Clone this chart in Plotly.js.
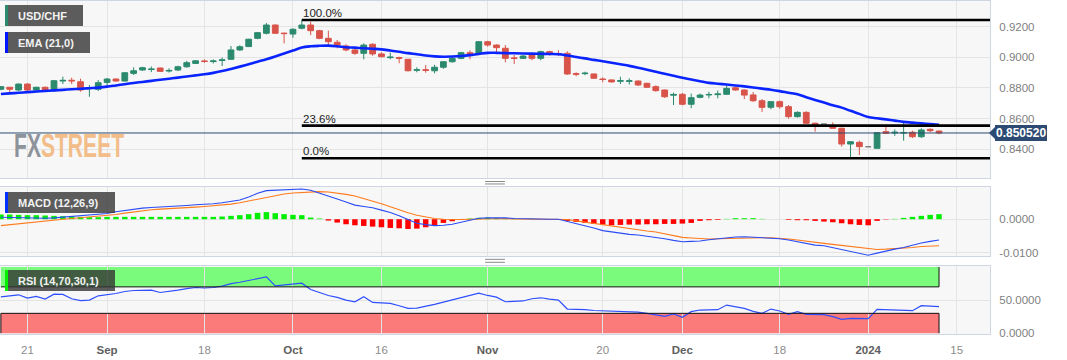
<!DOCTYPE html>
<html><head><meta charset="utf-8">
<script src="https://cdn.plot.ly/plotly-3.0.1.min.js"></script>
<style>html,body{margin:0;padding:0;background:#fff;}#chart{width:1067px;height:360px;}</style>
</head><body><div id="chart"></div>
<script>
// ---------- DATA ----------
const symbol = 'USD/CHF';
const dates = [
'2023-08-16','2023-08-17','2023-08-18','2023-08-21','2023-08-22','2023-08-23','2023-08-24','2023-08-25','2023-08-28','2023-08-29','2023-08-30','2023-08-31',
'2023-09-01','2023-09-04','2023-09-05','2023-09-06','2023-09-07','2023-09-08','2023-09-11','2023-09-12','2023-09-13','2023-09-14','2023-09-15','2023-09-18','2023-09-19','2023-09-20','2023-09-21','2023-09-22','2023-09-25','2023-09-26','2023-09-27','2023-09-28','2023-09-29',
'2023-10-02','2023-10-03','2023-10-04','2023-10-05','2023-10-06','2023-10-09','2023-10-10','2023-10-11','2023-10-12','2023-10-13','2023-10-16','2023-10-17','2023-10-18','2023-10-19','2023-10-20','2023-10-23','2023-10-24','2023-10-25','2023-10-26','2023-10-27','2023-10-30','2023-10-31',
'2023-11-01','2023-11-02','2023-11-03','2023-11-06','2023-11-07','2023-11-08','2023-11-09','2023-11-10','2023-11-13','2023-11-14','2023-11-15','2023-11-16','2023-11-17','2023-11-20','2023-11-21','2023-11-22','2023-11-23','2023-11-24','2023-11-27','2023-11-28','2023-11-29','2023-11-30',
'2023-12-01','2023-12-04','2023-12-05','2023-12-06','2023-12-07','2023-12-08','2023-12-11','2023-12-12','2023-12-13','2023-12-14','2023-12-15','2023-12-18','2023-12-19','2023-12-20','2023-12-21','2023-12-22','2023-12-25','2023-12-26','2023-12-27','2023-12-28','2023-12-29',
'2024-01-01','2024-01-02','2024-01-03','2024-01-04','2024-01-05','2024-01-08','2024-01-09','2024-01-10','2024-01-11'];
const open = [
0.8791,0.8804,0.8786,0.8825,0.8786,0.8804,0.8782,0.8845,0.8850,0.8840,
0.8795,0.8791,0.8836,0.8858,0.8845,0.8895,0.8917,0.8920,0.8930,0.8910,
0.8917,0.8938,0.8960,0.8976,0.8972,0.8979,0.8987,0.9048,0.9070,0.9124,
0.9157,0.9211,0.9158,0.9152,0.9190,0.9211,0.9174,0.9124,0.9098,0.9074,
0.9048,0.9026,0.9085,0.9022,0.8998,0.8998,0.8987,0.8915,0.8919,0.8912,
0.8935,0.8971,0.8993,0.9030,0.9022,0.9102,0.9080,0.9059,0.8996,0.8993,
0.9015,0.8993,0.9037,0.9024,0.9026,0.8893,0.8893,0.8891,0.8858,0.8852,
0.8843,0.8843,0.8845,0.8830,0.8808,0.8786,0.8752,0.8758,0.8693,0.8738,
0.8754,0.8756,0.8758,0.8801,0.8786,0.8754,0.8716,0.8673,0.8710,0.8677,
0.8612,0.8640,0.8569,0.8564,0.8547,0.8536,0.8433,0.8444,0.8416,0.8405,
0.8514,0.8505,0.8505,0.8510,0.8481,0.8529,0.8518];
const high = [
0.8811,0.8806,0.8828,0.8830,0.8808,0.8808,0.8851,0.8873,0.8867,0.8860,
0.8819,0.8851,0.8864,0.8862,0.8902,0.8934,0.8938,0.8940,0.8932,0.8928,
0.8945,0.8977,0.8981,0.8986,0.8986,0.8999,0.9074,0.9079,0.9121,0.9165,
0.9224,0.9214,0.9161,0.9190,0.9244,0.9233,0.9180,0.9174,0.9113,0.9085,
0.9057,0.9091,0.9091,0.9033,0.9031,0.9004,0.8989,0.8935,0.8950,0.8951,
0.8973,0.9001,0.9036,0.9046,0.9106,0.9108,0.9085,0.9080,0.9015,0.9015,
0.9021,0.9043,0.9043,0.9046,0.9039,0.8902,0.8906,0.8893,0.8869,0.8855,
0.8873,0.8862,0.8848,0.8833,0.8817,0.8789,0.8769,0.8767,0.8763,0.8763,
0.8775,0.8783,0.8815,0.8808,0.8789,0.8773,0.8727,0.8714,0.8717,0.8688,
0.8647,0.8647,0.8572,0.8565,0.8575,0.8540,0.8450,0.8455,0.8418,0.8509,
0.8546,0.8529,0.8575,0.8520,0.8536,0.8536,0.8520];
const low = [
0.8785,0.8769,0.8780,0.8780,0.8769,0.8778,0.8775,0.8825,0.8825,0.8775,
0.8742,0.8780,0.8812,0.8841,0.8841,0.8884,0.8912,0.8903,0.8904,0.8900,
0.8910,0.8932,0.8956,0.8964,0.8960,0.8943,0.8983,0.9042,0.9067,0.9118,
0.9150,0.9153,0.9091,0.9127,0.9183,0.9145,0.9118,0.9080,0.9059,0.9039,
0.9016,0.8987,0.9010,0.9000,0.8987,0.8961,0.8908,0.8902,0.8899,0.8895,
0.8925,0.8964,0.8987,0.8987,0.9018,0.9070,0.9030,0.8967,0.8956,0.8990,
0.8980,0.8980,0.9011,0.9008,0.8885,0.8876,0.8883,0.8860,0.8837,0.8835,
0.8825,0.8822,0.8812,0.8799,0.8775,0.8734,0.8688,0.8686,0.8667,0.8732,
0.8732,0.8732,0.8754,0.8782,0.8727,0.8708,0.8643,0.8660,0.8664,0.8599,
0.8606,0.8565,0.8514,0.8562,0.8534,0.8416,0.8340,0.8361,0.8414,0.8403,
0.8499,0.8486,0.8455,0.8472,0.8473,0.8510,0.8497];
const close = [
0.8808,0.8791,0.8825,0.8786,0.8804,0.8782,0.8847,0.8849,0.8846,0.8786,
0.8799,0.8834,0.8858,0.8845,0.8899,0.8912,0.8932,0.8923,0.8908,0.8914,
0.8938,0.8965,0.8977,0.8973,0.8976,0.8983,0.9048,0.9069,0.9118,0.9161,
0.9211,0.9157,0.9155,0.9183,0.9211,0.9174,0.9124,0.9102,0.9080,0.9048,
0.9026,0.9080,0.9022,0.9004,0.9001,0.8994,0.8912,0.8919,0.8915,0.8935,
0.8971,0.8993,0.9030,0.9022,0.9102,0.9080,0.9063,0.8993,0.8993,0.9008,
0.8993,0.9037,0.9022,0.9021,0.8891,0.8889,0.8896,0.8863,0.8855,0.8839,
0.8847,0.8846,0.8819,0.8804,0.8782,0.8742,0.8757,0.8693,0.8736,0.8753,
0.8757,0.8760,0.8797,0.8786,0.8753,0.8716,0.8673,0.8710,0.8677,0.8612,
0.8640,0.8569,0.8558,0.8564,0.8536,0.8433,0.8448,0.8416,0.8416,0.8507,
0.8503,0.8510,0.8508,0.8481,0.8525,0.8520,0.85052];
const ema21 = [
0.8760,0.8764,0.8768,0.8772,0.8776,0.8780,0.8784,0.8787,0.8791,0.8794,
0.8798,0.8802,0.8808,0.8816,0.8824,0.8832,0.8839,0.8846,0.8853,0.8860,
0.8867,0.8875,0.8882,0.8889,0.8898,0.8910,0.8924,0.8939,0.8955,0.8971,
0.8987,0.9005,0.9025,0.9044,0.9064,0.9072,0.9075,0.9076,0.9072,0.9066,
0.9063,0.9059,0.9056,0.9052,0.9044,0.9036,0.9027,0.9020,0.9012,0.9006,
0.9004,0.9005,0.9008,0.9014,0.9022,0.9029,0.9029,0.9027,0.9026,0.9025,
0.9024,0.9023,0.9022,0.9020,0.9012,0.9002,0.8993,0.8983,0.8974,0.8964,
0.8954,0.8944,0.8932,0.8919,0.8905,0.8892,0.8879,0.8866,0.8855,0.8844,
0.8833,0.8827,0.8822,0.8816,0.8810,0.8803,0.8795,0.8788,0.8779,0.8768,
0.8758,0.8739,0.8721,0.8704,0.8686,0.8671,0.8650,0.8630,0.8609,0.8601,
0.8594,0.8586,0.8578,0.8573,0.8568,0.8563,0.8558];
const macdLine = [
0.0006,0.0005,0.0005,0.0004,0.0004,0.0003,0.0004,0.0006,0.0008,0.0010,
0.0012,0.0015,0.0017,0.0022,0.0026,0.0030,0.0033,0.0035,0.0036,0.0038,
0.0039,0.0041,0.0043,0.0044,0.0046,0.0049,0.0053,0.0057,0.0066,0.0077,
0.0085,0.0086,0.0087,0.0089,0.0090,0.0086,0.0078,0.0069,0.0060,0.0051,
0.0042,0.0038,0.0034,0.0027,0.0020,0.0010,-0.0001,-0.0012,-0.0016,-0.0019,
-0.0018,-0.0015,-0.0009,-0.0002,0.0003,0.0004,0.0005,0.0004,0.0002,0.0001,
0.0000,0.0000,0.0000,0.0000,-0.0006,-0.0012,-0.0019,-0.0026,-0.0034,-0.0038,
-0.0042,-0.0045,-0.0047,-0.0050,-0.0053,-0.0058,-0.0063,-0.0067,-0.0066,-0.0065,
-0.0061,-0.0058,-0.0054,-0.0053,-0.0052,-0.0053,-0.0054,-0.0055,-0.0058,-0.0062,
-0.0067,-0.0073,-0.0077,-0.0079,-0.0085,-0.0091,-0.0097,-0.0103,-0.0107,-0.0101,
-0.0094,-0.0089,-0.0084,-0.0077,-0.0071,-0.0066,-0.0062];
const signalLine = [
-0.0019,-0.0016,-0.0013,-0.0010,-0.0007,-0.0004,-0.0002,0.0000,0.0002,0.0004,
0.0006,0.0008,0.0011,0.0014,0.0018,0.0022,0.0025,0.0028,0.0030,0.0031,
0.0033,0.0035,0.0036,0.0038,0.0040,0.0042,0.0045,0.0049,0.0054,0.0060,
0.0066,0.0071,0.0075,0.0078,0.0080,0.0082,0.0082,0.0081,0.0078,0.0074,
0.0069,0.0062,0.0054,0.0046,0.0037,0.0027,0.0019,0.0012,0.0006,0.0002,
0.0000,-0.0001,-0.0001,0.0000,0.0001,0.0002,0.0002,0.0002,0.0001,0.0001,
0.0001,0.0001,0.0001,0.0001,-0.0001,-0.0005,-0.0009,-0.0013,-0.0017,-0.0021,
-0.0025,-0.0029,-0.0032,-0.0035,-0.0038,-0.0043,-0.0049,-0.0054,-0.0056,-0.0058,
-0.0059,-0.0058,-0.0057,-0.0056,-0.0055,-0.0055,-0.0055,-0.0055,-0.0056,-0.0059,
-0.0062,-0.0066,-0.0069,-0.0072,-0.0075,-0.0078,-0.0082,-0.0086,-0.0089,-0.0090,
-0.0089,-0.0088,-0.0087,-0.0084,-0.0081,-0.0080,-0.0079];
const macdHist = [
0.0014,0.0014,0.0013,0.0012,0.0012,0.0011,0.0010,0.0009,0.0008,0.0007,
0.0006,0.0006,0.0007,0.0007,0.0007,0.0007,0.0007,0.0007,0.0007,0.0007,
0.0007,0.0007,0.0007,0.0007,0.0007,0.0008,0.0010,0.0012,0.0015,0.0019,
0.0021,0.0018,0.0015,0.0013,0.0012,0.0005,0.0002,-0.0004,-0.0010,-0.0015,
-0.0018,-0.0020,-0.0022,-0.0024,-0.0026,-0.0027,-0.0029,-0.0028,-0.0024,-0.0018,
-0.0011,-0.0006,-0.0002,0.0002,0.0004,0.0005,0.0004,0.0002,0.0001,0.0000,
0.0001,0.0000,-0.0001,-0.0002,-0.0005,-0.0008,-0.0011,-0.0014,-0.0016,-0.0018,
-0.0017,-0.0016,-0.0016,-0.0015,-0.0015,-0.0014,-0.0014,-0.0013,-0.0011,-0.0005,
-0.0003,-0.0002,0.0001,0.0003,0.0003,0.0003,0.0001,0.0000,0.0000,-0.0002,
-0.0003,-0.0003,-0.0005,-0.0007,-0.0009,-0.0012,-0.0015,-0.0017,-0.0018,-0.0005,
-0.0001,0.0001,0.0004,0.0007,0.0010,0.0013,0.0015];
const rsi14 = [
55.0,56.5,58.0,53.0,55.5,51.5,59.0,58.7,52.0,49.2,
50.0,56.5,58.0,60.0,63.0,64.5,64.8,65.0,61.5,62.8,
65.0,67.3,69.0,68.3,69.0,71.0,75.0,77.0,80.0,82.5,
85.0,71.5,72.5,73.5,75.5,66.0,61.0,57.0,54.0,50.0,
47.5,55.0,46.5,46.0,45.0,41.5,37.5,38.0,40.5,43.5,
47.0,50.5,53.5,58.0,60.5,57.0,54.5,47.5,48.0,48.7,
52.0,53.5,51.5,50.0,36.5,36.5,35.5,34.3,33.8,33.5,
33.5,33.0,31.7,30.0,27.5,25.5,29.0,24.0,32.5,35.0,
35.2,35.5,42.5,40.5,37.5,33.0,30.0,36.5,33.5,28.5,
32.5,28.5,28.3,28.0,25.0,21.0,22.5,22.2,22.0,36.0,
35.5,35.5,35.5,34.0,41.5,40.5,40.0];
const tickDates  = ['2023-08-21','2023-09-01','2023-09-18','2023-10-02','2023-10-16','2023-11-01','2023-11-20','2023-12-01','2023-12-18','2024-01-01','2024-01-15'];
const tickLabels = ['21','Sep','18','Oct','16','Nov','20','Dec','18','2024','15'];
const priceTicks = [0.84, 0.86, 0.88, 0.90, 0.92];
const macdTicks = [-0.01, 0];
const rsiTicks = [0, 50];
const fibPct = [1, 0.236, 0];
const rsiUpper = 70, rsiLower = 30;

// ---------- BUILD ----------
const FONT = 'Liberation Sans, Arial, Helvetica, sans-serif';
const UP = '#2b8a6e', DOWN = '#d8544a', DOJI = '#808080', TAG = '#2c4a72';
const gridC = '#e4e4e4', borderC = '#cfd5e2';
const xMin = -0.1, xMax = 111.76;
const priceRange = [0.8211, 0.9368], macdRange = [-0.01095, 0.00958], rsiRange = [-1.2, 101.5];
const domPrice = [0.4685, 1], domMacd = [0.2342, 0.4414], domRsi = [0, 0.2042];

const idx = dates.map((d, i) => i);
const lastI = idx[idx.length - 1];

function dateIndex(d) {
  const k = dates.indexOf(d);
  if (k >= 0) return k;
  let n = lastI;
  const t = new Date(dates[lastI] + 'T00:00:00Z');
  const target = new Date(d + 'T00:00:00Z');
  while (t < target) {
    t.setUTCDate(t.getUTCDate() + 1);
    const wd = t.getUTCDay();
    if (wd !== 0 && wd !== 6) n++;
  }
  return n;
}
const tickIdx = tickDates.map(dateIndex);
const tickText = tickLabels.map(l => /^\d{1,2}$/.test(l) ? l : '<b><span style="color:#606060">' + l + '</span></b>');

const isDoji = open.map((o, i) => o === close[i]);
const pick = (arr, want) => arr.filter((_, i) => isDoji[i] === want);

const hiVal = Math.max(...high), loVal = Math.min(...low);
const iHigh = high.indexOf(hiVal);
const fibVals = fibPct.map(p => loVal + p * (hiVal - loVal));
const lastClose = close[lastI];

const fibX = [], fibY = [];
fibVals.forEach(v => { fibX.push(iHigh, xMax, null); fibY.push(v, v, null); });

const traces = [
  { type: 'candlestick', xaxis: 'x3', yaxis: 'y3', x: pick(idx, false), open: pick(open, false), high: pick(high, false), low: pick(low, false), close: pick(close, false),
    increasing: { line: { color: UP, width: 1 }, fillcolor: UP }, decreasing: { line: { color: DOWN, width: 1 }, fillcolor: DOWN }, hoverinfo: 'skip' },
  { type: 'candlestick', xaxis: 'x3', yaxis: 'y3', x: pick(idx, true), open: pick(open, true), high: pick(high, true), low: pick(low, true), close: pick(close, true),
    increasing: { line: { color: DOJI, width: 1.5 }, fillcolor: DOJI }, decreasing: { line: { color: DOJI, width: 1.5 }, fillcolor: DOJI }, hoverinfo: 'skip' },
  { type: 'scatter', mode: 'lines', xaxis: 'x3', yaxis: 'y3', x: idx, y: ema21, line: { color: '#0a24ff', width: 2.6, shape: 'spline' }, hoverinfo: 'skip' },
  { type: 'scatter', mode: 'lines', xaxis: 'x3', yaxis: 'y3', x: fibX, y: fibY, line: { color: '#000', width: 2.6 }, hoverinfo: 'skip', connectgaps: false },
  { type: 'scatter', mode: 'lines', xaxis: 'x3', yaxis: 'y3', x: [xMin, xMax], y: [lastClose, lastClose], line: { color: TAG, width: 1 }, hoverinfo: 'skip' },
  { type: 'bar', xaxis: 'x2', yaxis: 'y2', x: idx, y: macdHist, width: 0.62,
    marker: { color: macdHist.map(v => v >= 0 ? '#00ee00' : '#ff0000'), line: { width: 0 } }, hoverinfo: 'skip' },
  { type: 'scatter', mode: 'lines', xaxis: 'x2', yaxis: 'y2', x: idx, y: signalLine, line: { color: '#ff7a1a', width: 1.1 }, hoverinfo: 'skip' },
  { type: 'scatter', mode: 'lines', xaxis: 'x2', yaxis: 'y2', x: idx, y: macdLine, line: { color: '#2a4cf5', width: 1.1 }, hoverinfo: 'skip' },
  { type: 'scatter', mode: 'lines', xaxis: 'x', yaxis: 'y', x: idx, y: rsi14, line: { color: '#2f4fff', width: 1.2 }, hoverinfo: 'skip' }
];

const xBase = (labels) => ({
  range: [xMin, xMax], tickmode: 'array', tickvals: tickIdx, ticktext: tickText,
  showticklabels: labels, ticks: labels ? 'outside' : '', ticklen: 5, tickcolor: 'rgba(0,0,0,0)',
  tickfont: { family: FONT, size: 11.5, color: '#8c8c8c' },
  showgrid: true, gridcolor: gridC, gridwidth: 1, zeroline: false,
  showline: true, mirror: true, linecolor: borderC, linewidth: 1,
  fixedrange: true, rangeslider: { visible: false }
});
const yBase = (dom, rng, vals) => ({
  domain: dom, range: rng, side: 'right', tickmode: 'array', tickvals: vals, ticktext: vals.map(v => v.toFixed(4)),
  ticks: 'outside', ticklen: 6, tickcolor: 'rgba(0,0,0,0)',
  tickfont: { family: FONT, size: 11.5, color: '#7f7f7f' },
  showgrid: true, gridcolor: gridC, gridwidth: 1, zeroline: false,
  showline: true, mirror: true, linecolor: borderC, linewidth: 1, fixedrange: true
});

// paper position of the last price (for the price tag pointer)
const tagPaperY = domPrice[0] + (lastClose - priceRange[0]) / (priceRange[1] - priceRange[0]) * (domPrice[1] - domPrice[0]);

const shapes = [
  { type: 'rect', xref: 'x', yref: 'y', x0: idx[0], x1: lastI, y0: rsiUpper, y1: 100, fillcolor: 'rgba(0,255,0,0.5)', line: { width: 0 }, layer: 'below' },
  { type: 'rect', xref: 'x', yref: 'y', x0: idx[0], x1: lastI, y0: 0, y1: rsiLower, fillcolor: 'rgba(255,0,0,0.5)', line: { width: 0 }, layer: 'below' },
  { type: 'line', xref: 'x', yref: 'y', x0: idx[0], x1: lastI, y0: rsiUpper, y1: rsiUpper, line: { color: '#111', width: 1 } },
  { type: 'line', xref: 'x', yref: 'y', x0: idx[0], x1: lastI, y0: rsiLower, y1: rsiLower, line: { color: '#111', width: 1 } },
  { type: 'line', xref: 'x', yref: 'y', x0: lastI, x1: lastI, y0: rsiUpper, y1: 100, line: { color: '#111', width: 1 } },
  { type: 'line', xref: 'x', yref: 'y', x0: lastI, x1: lastI, y0: 0, y1: rsiLower, line: { color: '#111', width: 1 } },
  { type: 'line', xref: 'x', yref: 'y', x0: idx[0], x1: idx[0], y0: 0, y1: rsiLower, line: { color: '#111', width: 1 } },
  // price tag pointer
  { type: 'path', xref: 'paper', yref: 'paper', xsizemode: 'pixel', ysizemode: 'pixel', xanchor: 1, yanchor: tagPaperY,
    path: 'M -1,0 L 6,7 L 6,-7 Z', fillcolor: TAG, line: { width: 0 } },
  // panel drag handles
  { type: 'line', xref: 'paper', yref: 'paper', x0: 0.490, x1: 0.510, y0: 0.4580, y1: 0.4580, line: { color: '#8a8a8a', width: 1 } },
  { type: 'line', xref: 'paper', yref: 'paper', x0: 0.490, x1: 0.510, y0: 0.4505, y1: 0.4505, line: { color: '#8a8a8a', width: 1 } },
  { type: 'line', xref: 'paper', yref: 'paper', x0: 0.490, x1: 0.510, y0: 0.2243, y1: 0.2243, line: { color: '#8a8a8a', width: 1 } },
  { type: 'line', xref: 'paper', yref: 'paper', x0: 0.490, x1: 0.510, y0: 0.2153, y1: 0.2153, line: { color: '#8a8a8a', width: 1 } }
];

const annotations = [];
function pill(text, barColor, domTop, offset, w) {
  const base = { xref: 'paper', yref: 'paper', x: 0, y: domTop, xanchor: 'left', yanchor: 'top', showarrow: false, borderpad: 0, borderwidth: 0 };
  annotations.push(Object.assign({}, base, { text: '\u00a0', xshift: 5, yshift: -offset, width: w, height: 21, bgcolor: 'rgba(52,52,52,0.8)', font: { size: 8 } }));
  annotations.push(Object.assign({}, base, { text: '\u00a0', xshift: 5, yshift: -offset, width: 3, height: 21, bgcolor: barColor, font: { size: 8 } }));
  annotations.push({ xref: 'paper', yref: 'paper', x: 0, y: domTop, xanchor: 'left', yanchor: 'middle', xshift: 16, yshift: -(offset + 10.5),
    text: '<b>' + text + '</b>', showarrow: false, font: { family: FONT, size: 11, color: '#f2f2f2' } });
}
pill(symbol, '#2b8a6e', domPrice[1], 4, 78);
pill('EMA (21,0)', '#0015ff', domPrice[1], 31, 85);
pill('MACD (12,26,9)', '#0030ff', domMacd[1], 5, 110);
pill('RSI (14,' + rsiUpper + ',' + rsiLower + ',1)', '#00ee00', domRsi[1], 4, 110);

fibPct.forEach((p, k) => {
  annotations.push({ xref: 'x3', yref: 'y3', x: iHigh, y: fibVals[k], xanchor: 'left', yanchor: 'bottom', xshift: -1, yshift: -1,
    text: (p * 100).toFixed(1) + '%', showarrow: false, font: { family: FONT, size: 11.5, color: '#222' } });
});

annotations.push({ xref: 'paper', yref: 'y3', x: 1, y: lastClose, xanchor: 'left', yanchor: 'middle', xshift: 5,
  text: '<b>' + lastClose.toFixed(6) + '</b>', showarrow: false, bgcolor: TAG, borderpad: 1, borderwidth: 0,
  font: { family: FONT, size: 12, color: '#ffffff' } });

annotations.push({ xref: 'paper', yref: 'paper', x: 0, y: 0.5676, xanchor: 'left', yanchor: 'middle', xshift: 12,
  text: '<b><span style="color:#8e939b">FX</span><span style="color:#f2bd88">STREET</span></b>', showarrow: false,
  font: { family: FONT, size: 34 } });

const layout = {
  width: 1067, height: 360,
  margin: { l: 0, r: 77, t: 1, b: 26 },
  paper_bgcolor: '#ffffff', plot_bgcolor: '#f7f7f7',
  showlegend: false, hovermode: false, dragmode: false,
  boxgap: 0.35, boxgroupgap: 0,
  font: { family: FONT },
  xaxis: Object.assign(xBase(true), { anchor: 'y' }),
  xaxis2: Object.assign(xBase(false), { anchor: 'y2', matches: 'x' }),
  xaxis3: Object.assign(xBase(false), { anchor: 'y3', matches: 'x' }),
  yaxis: Object.assign(yBase(domRsi, rsiRange, rsiTicks), { anchor: 'x' }),
  yaxis2: Object.assign(yBase(domMacd, macdRange, macdTicks), { anchor: 'x2' }),
  yaxis3: Object.assign(yBase(domPrice, priceRange, priceTicks), { anchor: 'x3' }),
  shapes: shapes,
  annotations: annotations
};

Plotly.newPlot('chart', traces, layout, { staticPlot: true, displayModeBar: false }).then(() => {
  // condense the watermark horizontally (narrow logo lettering)
  const el = Array.from(document.querySelectorAll('.annotation-text')).find(e => e.textContent === 'FXSTREET');
  if (el) {
    const bb = el.getBBox();
    const s = 0.62;
    el.setAttribute('transform', 'translate(' + (bb.x * (1 - s)) + ',0) scale(' + s + ',1)');
  }
});
</script>
</body></html>
